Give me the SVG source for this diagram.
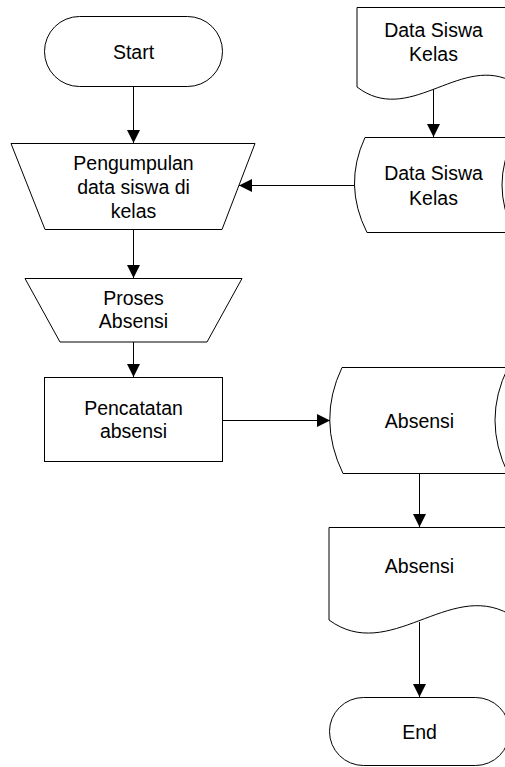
<svg xmlns="http://www.w3.org/2000/svg" width="505" height="767" viewBox="0 0 505 767">
  <style>
    .shape { fill: #ffffff; stroke: #000000; stroke-width: 1; }
    .edge { fill: none; stroke: #000000; stroke-width: 1; }
    text { font-family: "Liberation Sans", Arial, sans-serif; font-size: 19.5px; fill: #000000; text-anchor: middle; }
  </style>
  <defs>
    <marker id="arrow" markerUnits="userSpaceOnUse" markerWidth="13" markerHeight="13" viewBox="0 0 12 12" refX="12" refY="6" orient="auto">
      <path d="M0,0 L12,6 L0,12 Z" fill="#000000"/>
    </marker>
  </defs>

  <rect width="505" height="767" fill="#ffffff"/>

  <!-- connectors -->
  <g id="connectors">
    <line class="edge" x1="133.5" y1="87" x2="133.5" y2="143" marker-end="url(#arrow)"/>
    <line class="edge" x1="133.5" y1="229" x2="133.5" y2="278" marker-end="url(#arrow)"/>
    <line class="edge" x1="133.5" y1="342" x2="133.5" y2="377" marker-end="url(#arrow)"/>
    <line class="edge" x1="222" y1="420.5" x2="330" y2="420.5" marker-end="url(#arrow)"/>
    <line class="edge" x1="433.5" y1="89" x2="433.5" y2="137" marker-end="url(#arrow)"/>
    <line class="edge" x1="354" y1="185.5" x2="239" y2="185.5" marker-end="url(#arrow)"/>
    <line class="edge" x1="419.5" y1="473" x2="419.5" y2="527" marker-end="url(#arrow)"/>
    <line class="edge" x1="419.5" y1="622" x2="419.5" y2="697" marker-end="url(#arrow)"/>
  </g>

  <!-- terminator: Start -->
  <g id="start">
    <rect class="shape" x="44.5" y="16.5" width="178" height="70" rx="35" ry="35"/>
    <text x="133.5" y="59">Start</text>
  </g>

  <!-- manual operation: collecting class data -->
  <g id="pengumpulan">
    <path class="shape" d="M11,143.5 L255,143.5 L222,229.5 L45,229.5 Z"/>
    <text x="133.5" y="170">Pengumpulan</text>
    <text x="133.5" y="194">data siswa di</text>
    <text x="133.5" y="218">kelas</text>
  </g>

  <!-- manual operation: attendance process -->
  <g id="proses-absensi">
    <path class="shape" d="M25,278.5 L242,278.5 L207,342 L60,342 Z"/>
    <text x="133.5" y="305">Proses</text>
    <text x="133.5" y="328">Absensi</text>
  </g>

  <!-- process: recording attendance -->
  <g id="pencatatan">
    <rect class="shape" x="44.5" y="377.5" width="178" height="84"/>
    <text x="133.5" y="415">Pencatatan</text>
    <text x="133.5" y="438">absensi</text>
  </g>

  <!-- document: class student data -->
  <g id="doc-data-siswa">
    <path class="shape" d="M357,87 L357,7.5 L509,7.5 L509,80 C458,57 408,126 357,87 Z"/>
    <text x="433.5" y="37">Data Siswa</text>
    <text x="433.5" y="61">Kelas</text>
  </g>

  <!-- stored data: class student data -->
  <g id="store-data-siswa">
    <path class="shape" d="M365,137.5 L514,137.5 Q490,185 514,232.5 L367,232.5 Q343,185 365,137.5 Z"/>
    <text x="433.5" y="180">Data Siswa</text>
    <text x="433.5" y="205">Kelas</text>
  </g>

  <!-- stored data: attendance -->
  <g id="store-absensi">
    <path class="shape" d="M342,367.5 L508,367.5 Q482,420 508,473.5 L343,473.5 Q317,420 342,367.5 Z"/>
    <text x="419.5" y="428">Absensi</text>
  </g>

  <!-- document: attendance -->
  <g id="doc-absensi">
    <path class="shape" d="M329,620 L329,527.5 L509,527.5 L509,614 C449,580 389,664 329,620 Z"/>
    <text x="419.5" y="573">Absensi</text>
  </g>

  <!-- terminator: End -->
  <g id="end">
    <rect class="shape" x="329.5" y="697.5" width="180" height="68" rx="34" ry="34"/>
    <text x="419.5" y="739">End</text>
  </g>
</svg>
